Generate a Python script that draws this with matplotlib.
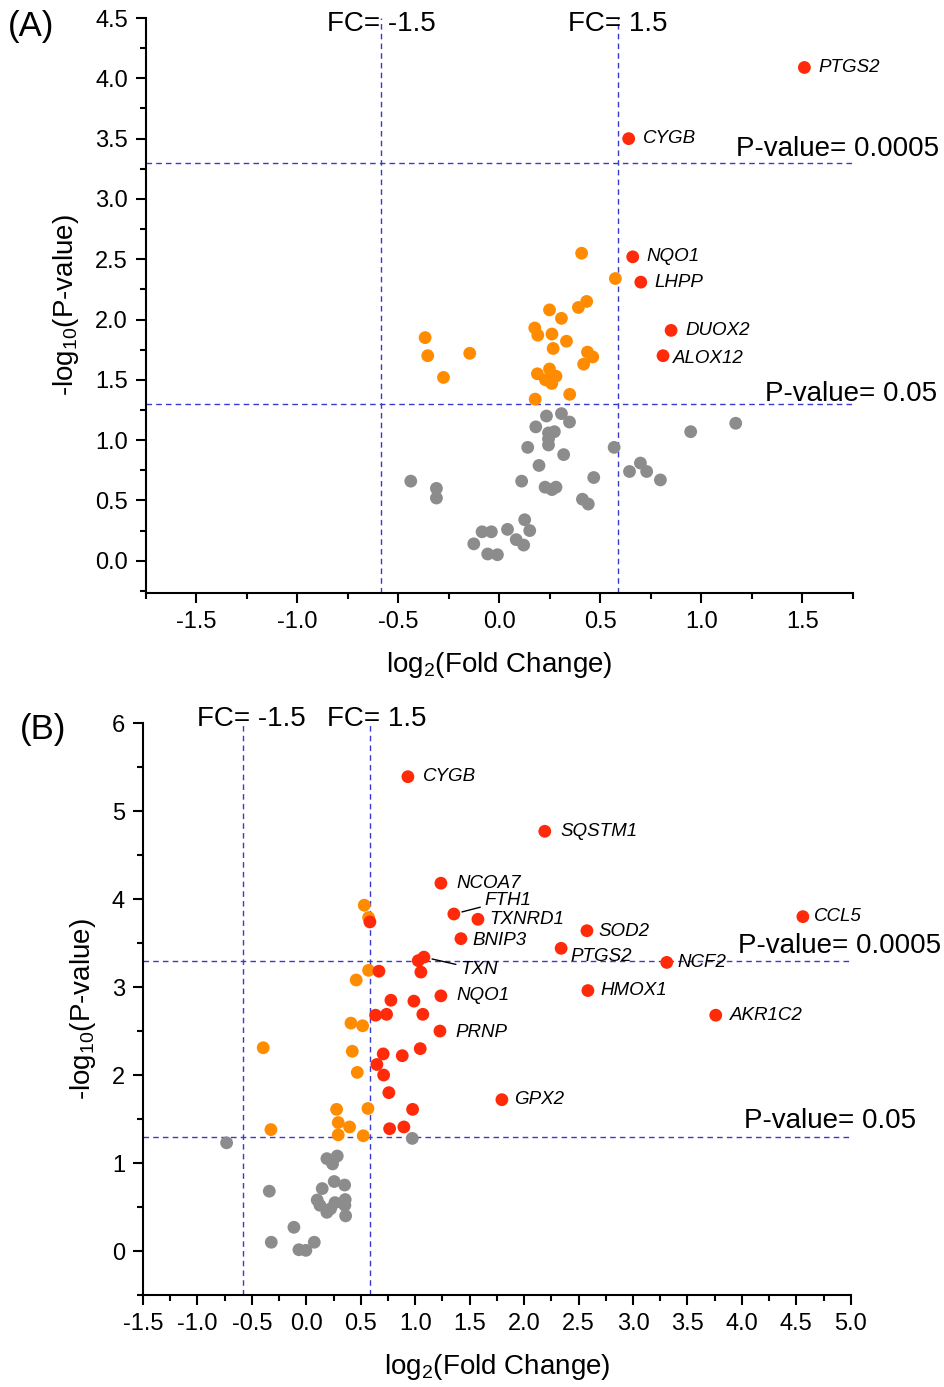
import matplotlib
matplotlib.use('Agg')
import matplotlib.pyplot as plt
from matplotlib.ticker import MultipleLocator, FormatStrFormatter

plt.rcParams['font.family'] = ['Liberation Sans', 'DejaVu Sans']
plt.rcParams['mathtext.fontset'] = 'custom'
plt.rcParams['mathtext.rm'] = 'Liberation Sans'
plt.rcParams['mathtext.it'] = 'Liberation Sans:italic'

RED = '#FF2A0A'
ORANGE = '#FF8C00'
GREY = '#8C8C8C'
LINE = '#3A3AD0'

# ---------------- panel A data ----------------
a_genes = ['PTGS2', 'CYGB', 'NQO1', 'LHPP', 'DUOX2', 'ALOX12']
a_gene_x = [1.51, 0.64, 0.66, 0.70, 0.85, 0.81]
a_gene_y = [4.09, 3.50, 2.52, 2.31, 1.91, 1.70]

a_orange_x = [-0.368, -0.355, -0.147, -0.277, 0.407, 0.574, 0.432, 0.391, 0.248,
              0.307, 0.175, 0.19, 0.26, 0.332, 0.266, 0.436, 0.462, 0.417, 0.188,
              0.248, 0.28, 0.228, 0.259, 0.348, 0.177]
a_orange_y = [1.85, 1.70, 1.72, 1.52, 2.55, 2.34, 2.15, 2.10, 2.08,
              2.01, 1.93, 1.87, 1.88, 1.82, 1.76, 1.73, 1.69, 1.63, 1.55,
              1.59, 1.53, 1.50, 1.47, 1.38, 1.34]

a_grey_x = [0.233, 0.307, 0.347, 0.18, 0.272, 0.243, 0.243, 0.243, 0.14, 0.318,
            0.568, 0.947, 1.17, 0.196, 0.467, -0.439, -0.312, -0.312, 0.11, 0.226,
            0.28, 0.26, 0.411, 0.44, 0.644, 0.698, 0.729, 0.797, 0.125, 0.15,
            0.04, 0.083, 0.12, -0.086, -0.04, -0.127, -0.058, -0.01]
a_grey_y = [1.20, 1.22, 1.15, 1.11, 1.07, 1.06, 1.01, 0.96, 0.94, 0.88,
            0.94, 1.07, 1.14, 0.79, 0.69, 0.66, 0.60, 0.52, 0.66, 0.61,
            0.61, 0.59, 0.51, 0.47, 0.74, 0.81, 0.74, 0.67, 0.34, 0.25,
            0.26, 0.175, 0.13, 0.24, 0.24, 0.14, 0.056, 0.05]

# ---------------- panel B data ----------------
b_genes = ['CYGB', 'SQSTM1', 'NCOA7', 'FTH1', 'TXNRD1', 'SOD2', 'CCL5', 'BNIP3',
           'PTGS2', 'NCF2', 'TXN', 'HMOX1', 'AKR1C2', 'NQO1', 'PRNP', 'GPX2']
b_gene_x = [0.933, 2.19, 1.236, 1.355, 1.576, 2.577, 4.56, 1.42,
            2.34, 3.31, 1.08, 2.586, 3.76, 1.236, 1.227, 1.796]
b_gene_y = [5.39, 4.77, 4.18, 3.83, 3.77, 3.64, 3.80, 3.55,
            3.44, 3.28, 3.34, 2.96, 2.68, 2.90, 2.50, 1.72]

b_red_x = [0.584, 0.667, 1.028, 1.052, 0.777, 0.988, 1.07, 0.636, 0.737, 0.706,
           0.881, 1.046, 0.648, 0.71, 0.758, 0.976, 0.765, 0.896]
b_red_y = [3.74, 3.18, 3.30, 3.17, 2.85, 2.84, 2.69, 2.68, 2.69, 2.24,
           2.22, 2.30, 2.12, 2.00, 1.80, 1.61, 1.39, 1.41]

b_orange_x = [0.532, 0.572, 0.572, 0.458, 0.41, 0.517, -0.396, 0.422, 0.468,
              0.278, 0.566, 0.293, 0.397, -0.325, 0.293, 0.523]
b_orange_y = [3.93, 3.79, 3.19, 3.08, 2.59, 2.56, 2.31, 2.27, 2.03,
              1.61, 1.62, 1.46, 1.41, 1.38, 1.32, 1.31]

b_grey_x = [-0.732, 0.973, 0.189, 0.284, 0.241, 0.256, 0.352, -0.34, 0.146, 0.10,
            0.125, 0.263, 0.357, 0.354, 0.189, 0.223, 0.361, -0.114, -0.322,
            -0.068, -0.004, 0.073]
b_grey_y = [1.23, 1.28, 1.05, 1.08, 0.99, 0.79, 0.75, 0.68, 0.71, 0.58,
            0.52, 0.55, 0.585, 0.52, 0.44, 0.48, 0.40, 0.27, 0.10,
            0.015, 0.008, 0.10]

fc_cut = 0.585      # log2(1.5)
p_cut1 = 1.301      # -log10(0.05)
p_cut2 = 3.301      # -log10(0.0005)

# label offsets in points (dx, dy)
a_offsets = {'ALOX12': (7, -2)}
b_offsets = {'CYGB': (11, 0), 'SQSTM1': (11, 0), 'NCOA7': (11, 0), 'FTH1': (22, 10),
             'TXNRD1': (8.5, -0.5), 'SOD2': (8.5, -0.5), 'CCL5': (8, 0),
             'BNIP3': (8.5, -1), 'PTGS2': (6.5, -6), 'NCF2': (8, 0),
             'TXN': (26, -9), 'HMOX1': (9, 0), 'AKR1C2': (10, 0), 'NQO1': (11, 0),
             'PRNP': (11, -1), 'GPX2': (9, 0)}
leaders = ['FTH1', 'TXN']

fig = plt.figure(figsize=(9.45, 13.87), dpi=100)
axA = fig.add_axes([0.1545, 0.5725, 0.748, 0.4145])
axB = fig.add_axes([0.1513, 0.0663, 0.749, 0.4124])


def style_axis(ax):
    for s in ['top', 'right']:
        ax.spines[s].set_visible(False)
    for s in ['left', 'bottom']:
        ax.spines[s].set_linewidth(1.5)
    ax.tick_params(which='major', direction='out', length=7, width=1.5, labelsize=17, pad=6)
    ax.tick_params(which='minor', direction='out', length=4, width=1.5)
    ax.set_xlabel('log$\\mathregular{_{2}}$(Fold Change)', fontsize=20, labelpad=12)
    ax.set_ylabel('-log$\\mathregular{_{10}}$(P-value)', fontsize=20, labelpad=10)


def cut_lines(ax):
    ax.axvline(-fc_cut, color=LINE, lw=1, ls=(0, (4, 3)), zorder=1)
    ax.axvline(fc_cut, color=LINE, lw=1, ls=(0, (4, 3)), zorder=1)
    ax.axhline(p_cut1, color=LINE, lw=1, ls=(0, (4, 3)), zorder=1)
    ax.axhline(p_cut2, color=LINE, lw=1, ls=(0, (4, 3)), zorder=1)


MS = 85

# ---------------- panel A ----------------
cut_lines(axA)
axA.scatter(a_grey_x, a_grey_y, s=MS, c=GREY, edgecolors='none', zorder=3)
axA.scatter(a_orange_x, a_orange_y, s=MS, c=ORANGE, edgecolors='none', zorder=3)
axA.scatter(a_gene_x, a_gene_y, s=MS, c=RED, edgecolors='none', zorder=3)
for g, x, y in zip(a_genes, a_gene_x, a_gene_y):
    axA.annotate(g, (x, y), xytext=a_offsets.get(g, (10, 0)), textcoords='offset points',
                 ha='left', va='center', fontsize=13.5, style='italic')
axA.set_xlim(-1.75, 1.75)
axA.set_ylim(-0.267, 4.5)
axA.xaxis.set_major_locator(MultipleLocator(0.5))
axA.xaxis.set_minor_locator(MultipleLocator(0.25))
axA.yaxis.set_major_locator(MultipleLocator(0.5))
axA.yaxis.set_minor_locator(MultipleLocator(0.25))
axA.xaxis.set_major_formatter(FormatStrFormatter('%.1f'))
axA.yaxis.set_major_formatter(FormatStrFormatter('%.1f'))
style_axis(axA)
axA.text(-fc_cut, 4.45, 'FC= -1.5', ha='center', va='center', fontsize=20, clip_on=False)
axA.text(fc_cut, 4.45, 'FC= 1.5', ha='center', va='center', fontsize=20, clip_on=False)
axA.text(1.173, 3.41, 'P-value= 0.0005', ha='left', va='center', fontsize=20, clip_on=False)
axA.text(1.317, 1.38, 'P-value= 0.05', ha='left', va='center', fontsize=20, clip_on=False)
fig.text(0.008, 0.981, '(A)', ha='left', va='center', fontsize=25)

# ---------------- panel B ----------------
cut_lines(axB)
axB.scatter(b_grey_x, b_grey_y, s=MS, c=GREY, edgecolors='none', zorder=3)
axB.scatter(b_orange_x, b_orange_y, s=MS, c=ORANGE, edgecolors='none', zorder=3)
axB.scatter(b_red_x, b_red_y, s=MS, c=RED, edgecolors='none', zorder=3)
axB.scatter(b_gene_x, b_gene_y, s=MS, c=RED, edgecolors='none', zorder=3)
for g, x, y in zip(b_genes, b_gene_x, b_gene_y):
    if g in leaders:
        axB.annotate(g, (x, y), xytext=b_offsets[g], textcoords='offset points',
                     ha='left', va='center', fontsize=13.5, style='italic',
                     arrowprops=dict(arrowstyle='-', color='black', lw=1,
                                     shrinkA=1, shrinkB=6))
    else:
        axB.annotate(g, (x, y), xytext=b_offsets.get(g, (10, 0)), textcoords='offset points',
                     ha='left', va='center', fontsize=13.5, style='italic')
axB.set_xlim(-1.5, 5.0)
axB.set_ylim(-0.5, 6)
axB.xaxis.set_major_locator(MultipleLocator(0.5))
axB.xaxis.set_minor_locator(MultipleLocator(0.25))
axB.yaxis.set_major_locator(MultipleLocator(1))
axB.yaxis.set_minor_locator(MultipleLocator(0.5))
axB.xaxis.set_major_formatter(FormatStrFormatter('%.1f'))
style_axis(axB)
axB.text(-0.5, 6.05, 'FC= -1.5', ha='center', va='center', fontsize=20, clip_on=False)
axB.text(0.648, 6.05, 'FC= 1.5', ha='center', va='center', fontsize=20, clip_on=False)
axB.text(3.96, 3.47, 'P-value= 0.0005', ha='left', va='center', fontsize=20, clip_on=False)
axB.text(4.02, 1.48, 'P-value= 0.05', ha='left', va='center', fontsize=20, clip_on=False)
fig.text(0.021, 0.474, '(B)', ha='left', va='center', fontsize=25)

fig.savefig('out.png', dpi=100)
